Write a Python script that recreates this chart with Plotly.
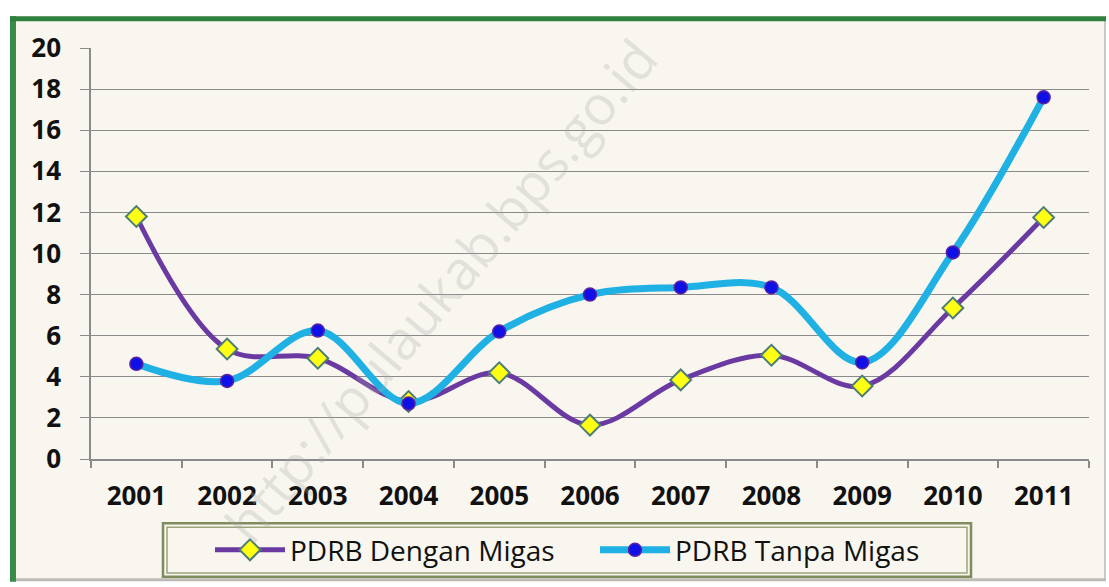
import plotly.graph_objects as go

# Pertumbuhan PDRB (%) per tahun
tahun = ["2001", "2002", "2003", "2004", "2005", "2006", "2007", "2008", "2009", "2010", "2011"]
dengan_migas = [11.8, 5.35, 4.9, 2.8, 4.2, 1.65, 3.85, 5.05, 3.55, 7.35, 11.75]
tanpa_migas = [4.63, 3.8, 6.25, 2.7, 6.2, 8.0, 8.35, 8.35, 4.7, 10.05, 17.6]
y_ticks = [0, 2, 4, 6, 8, 10, 12, 14, 16, 18, 20]

W, H = 1109, 587
L, R, T, B = 91, 1089, 48, 463  # plot area in pixels


def px(x):
    return (x - L) / (R - L)


def py(y):
    return (B - y) / (B - T)


fig = go.Figure()

fig.add_trace(go.Scatter(
    x=tahun, y=dengan_migas, name="PDRB Dengan Migas",
    mode="lines+markers",
    line=dict(color="#6A3AA2", width=5, shape="spline", smoothing=1.0),
    marker=dict(symbol="diamond", size=16, color="#FFFF14",
                line=dict(color="#4E7C76", width=2)),
))
fig.add_trace(go.Scatter(
    x=tahun, y=tanpa_migas, name="PDRB Tanpa Migas",
    mode="lines+markers",
    line=dict(color="#1FB0E4", width=7, shape="spline", smoothing=1.0),
    marker=dict(symbol="circle", size=13, color="#1010E6",
                line=dict(color="#5A22A0", width=1.5)),
))

shapes = [
    # chart background
    dict(type="rect", xref="paper", yref="paper", layer="below",
         x0=px(13), x1=px(1106), y0=py(586), y1=py(18),
         fillcolor="#F8F6EE", line=dict(width=0)),
    # frame: right / bottom soft edges
    dict(type="line", xref="paper", yref="paper",
         x0=px(1105), x1=px(1105), y0=py(586), y1=py(18),
         line=dict(color="#C9C9C3", width=2)),
    dict(type="line", xref="paper", yref="paper",
         x0=px(13), x1=px(1106), y0=py(585), y1=py(585),
         line=dict(color="#BDBDB6", width=3)),
    # frame: green left / top edges
    dict(type="line", xref="paper", yref="paper",
         x0=px(13), x1=px(13), y0=py(587), y1=py(16),
         line=dict(color="#3A8A48", width=6)),
    dict(type="line", xref="paper", yref="paper",
         x0=px(10), x1=px(1106), y0=py(18.5), y1=py(18.5),
         line=dict(color="#2F7F3E", width=5)),
    # legend box (double border)
    dict(type="rect", xref="paper", yref="paper",
         x0=px(163), x1=px(971), y0=py(582), y1=py(528),
         line=dict(color="#7E8C5E", width=2.5)),
    dict(type="rect", xref="paper", yref="paper",
         x0=px(167), x1=px(967), y0=py(578), y1=py(532),
         line=dict(color="#9AA57A", width=1.5)),
]

# site watermark across the chart
fig.add_annotation(
    text="http://pulaukab.bps.go.id", xref="paper", yref="paper",
    x=px(440), y=py(292), xanchor="center", yanchor="middle",
    showarrow=False, textangle=-50,
    font=dict(family="Open Sans", size=54, color="rgba(170,170,170,0.28)"),
)

fig.update_layout(
    width=W, height=H,
    margin=dict(l=L, r=W - R, t=T, b=H - B),
    paper_bgcolor="white",
    plot_bgcolor="rgba(0,0,0,0)",
    shapes=shapes,
    showlegend=True,
    legend=dict(
        orientation="h", xref="paper", yref="paper",
        x=px(210), y=py(555), xanchor="left", yanchor="middle",
        bgcolor="rgba(0,0,0,0)", borderwidth=0,
        font=dict(family="Open Sans", size=28, color="#111111"),
        itemwidth=70, entrywidth=300, entrywidthmode="pixels",
        itemclick=False,
    ),
    xaxis=dict(
        type="category", range=[-0.5, 10.5],
        showline=True, linecolor="#8A8A8A", linewidth=1.5,
        ticks="outside", ticklen=7, tickcolor="#8A8A8A", tickwidth=1.5,
        tickson="boundaries", showgrid=False, zeroline=False,
        ticklabelstandoff=13,
        tickfont=dict(family="Open Sans", size=26, color="#111111", weight="bold"),
    ),
    yaxis=dict(
        range=[0, 20], tickvals=y_ticks,
        showline=True, linecolor="#8A8A8A", linewidth=1.5,
        showgrid=True, gridcolor="#8A8A8A", gridwidth=1.3,
        ticks="outside", ticklen=9, tickcolor="#8A8A8A", tickwidth=1.3,
        zeroline=False, ticklabelstandoff=14,
        tickfont=dict(family="Open Sans", size=26, color="#111111", weight="bold"),
    ),
)

fig.write_html("out.html")
